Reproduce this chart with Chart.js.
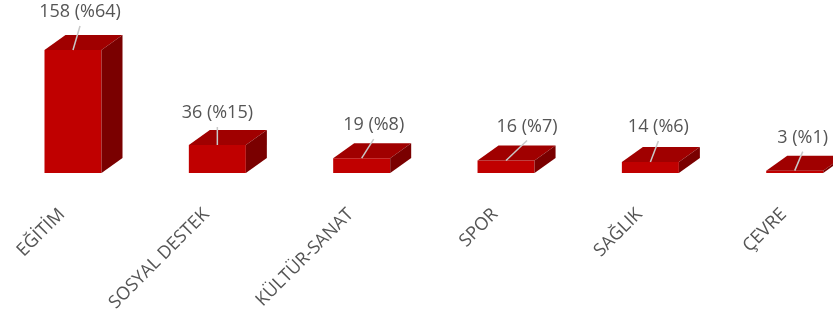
<!DOCTYPE html>
<html>
<head>
<meta charset="utf-8">
<script src="https://cdn.jsdelivr.net/npm/chart.js@4.4.1/dist/chart.umd.min.js"></script>
<style>
  html, body { margin: 0; padding: 0; background: #fff; }
  #wrap { width: 833px; height: 318px; }
</style>
</head>
<body>
<div id="wrap"><canvas id="myChart"></canvas></div>
<script>
const categories = ["EĞİTİM", "SOSYAL DESTEK", "KÜLTÜR-SANAT", "SPOR", "SAĞLIK", "ÇEVRE"];
const counts = [158, 36, 19, 16, 14, 3];
const percents = [64, 15, 8, 7, 6, 1];

const frontColor = "#C00000";
const topColor = "#A00000";
const sideColor = "#7A0000";
const textColor = "#555555";

// extra faces + labels with leader lines, like the excel 3d column chart
const bars3d = {
  id: "bars3d",
  afterDatasetsDraw(chart, args, opts) {
    const ctx = chart.ctx;
    const meta = chart.getDatasetMeta(0);
    const dx = opts.depthX, dy = opts.depthY;
    meta.data.forEach(function(bar, i) {
      const p = bar.getProps(["x", "y", "base", "width"], true);
      const l = p.x - p.width / 2, r = p.x + p.width / 2;
      const t = p.y, b = p.base;
      ctx.save();
      ctx.fillStyle = topColor;
      ctx.beginPath();
      ctx.moveTo(l, t);
      ctx.lineTo(l + dx, t + dy);
      ctx.lineTo(r + dx, t + dy);
      ctx.lineTo(r, t);
      ctx.closePath();
      ctx.fill();
      ctx.fillStyle = sideColor;
      ctx.beginPath();
      ctx.moveTo(r, t);
      ctx.lineTo(r + dx, t + dy);
      ctx.lineTo(r + dx, b + dy);
      ctx.lineTo(r, b);
      ctx.closePath();
      ctx.fill();

      const n = opts.labelNudge[i];
      const lx = p.x + n[0], ly = t + n[1];
      ctx.strokeStyle = "#C8C8C8";
      ctx.lineWidth = 1.5;
      ctx.beginPath();
      ctx.moveTo(lx, ly + 14);
      ctx.lineTo(p.x, t);
      ctx.stroke();

      ctx.fillStyle = textColor;
      ctx.font = "18px 'Open Sans'";
      ctx.textAlign = "center";
      ctx.textBaseline = "middle";
      ctx.fillText(counts[i] + " (%" + percents[i] + ")", lx, ly);
      ctx.restore();
    });
  }
};

new Chart("myChart", {
  type: "bar",
  data: {
    labels: categories,
    datasets: [{
      data: counts,
      backgroundColor: frontColor,
      barPercentage: 0.395,
      categoryPercentage: 1,
      clip: false
    }]
  },
  options: {
    responsive: true,
    maintainAspectRatio: false,
    animation: false,
    layout: { padding: { top: 50, left: 73, right: 33, bottom: 0 } },
    plugins: {
      legend: { display: false },
      tooltip: { enabled: false },
      bars3d: {
        depthX: 21,
        depthY: -15,
        labelNudge: [[7, -38], [0, -32], [12, -33], [21, -34], [8, -35], [8, -33]]
      }
    },
    scales: {
      x: {
        offset: false,
        grid: { display: false },
        border: { display: false },
        ticks: {
          color: textColor,
          font: { family: "'Open Sans'", size: 18 },
          minRotation: 45,
          maxRotation: 45,
          padding: 23,
          labelOffset: -11
        },
        afterFit: function(s) { s.height = 145; }
      },
      y: {
        display: false,
        min: 0,
        max: 158
      }
    }
  },
  plugins: [bars3d]
});
</script>
</body>
</html>
